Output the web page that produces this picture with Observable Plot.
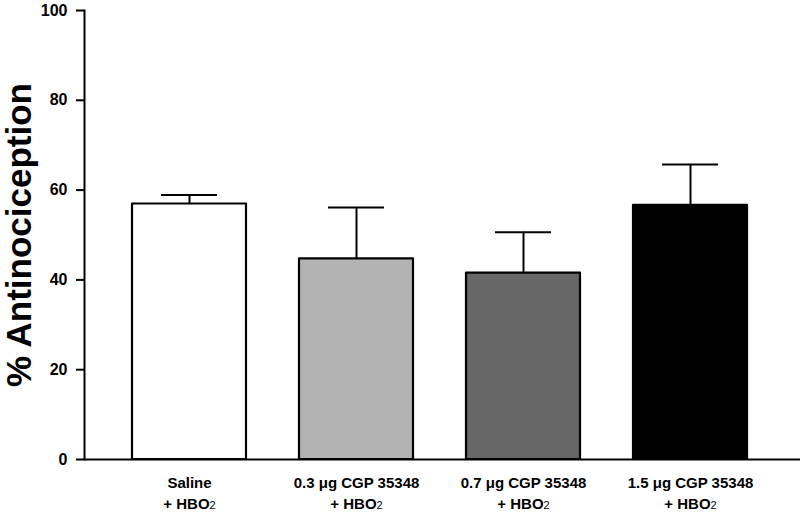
<!DOCTYPE html>
<html>
<head>
<meta charset="utf-8">
<script src="https://cdn.jsdelivr.net/npm/d3@7"></script>
<script src="https://cdn.jsdelivr.net/npm/@observablehq/plot@0.6"></script>
<style>
  html, body { margin: 0; padding: 0; background: #fff; }
  #chart { width: 800px; height: 515px; }
</style>
</head>
<body>
<div id="chart"></div>
<script>
const categories = ["Saline\n+ HBO2", "0.3 μg CGP 35348\n+ HBO2", "0.7 μg CGP 35348\n+ HBO2", "1.5 μg CGP 35348\n+ HBO2"];
const means = [56.9, 44.7, 41.5, 56.6];
const sems = [2.0, 11.4, 9.1, 9.1];
const fills = ["#ffffff", "#b3b3b3", "#676767", "#000000"];
const yTicks = [0, 20, 40, 60, 80, 100];
const yLabel = "% Antinociception";

const data = categories.map((c, i) => ({cat: c, mean: means[i], upper: means[i] + sems[i], fill: fills[i]}));

const font = "'Liberation Sans', Arial, sans-serif";

const chart = Plot.plot({
  width: 800,
  height: 515,
  marginLeft: 84,
  marginRight: 0,
  marginTop: 10,
  marginBottom: 56,
  style: {fontFamily: font, fontWeight: "bold", color: "#000", background: "#fff", overflow: "visible"},
  x: {domain: categories, range: [84, 796], paddingInner: 0.317, paddingOuter: 0.287, label: null},
  y: {domain: [0, 100], ticks: yTicks, label: null},
  marks: [
    Plot.ruleX(data, {x: "cat", y1: "mean", y2: "upper", stroke: "#000", strokeWidth: 2}),
    Plot.tickY(data, {x: "cat", y: "upper", stroke: "#000", strokeWidth: 2, insetLeft: 29, insetRight: 29}),
    Plot.barY(data, {x: "cat", y: "mean", fill: "fill", stroke: "#000", strokeWidth: 2.2, strokeLinejoin: "round"}),
    Plot.frame({anchor: "left", stroke: "#000", strokeWidth: 2}),
    Plot.ruleY([0], {stroke: "#000", strokeWidth: 2.2}),
    Plot.axisY({ticks: yTicks, tickSize: 8, tickPadding: 9, fontSize: 16, fontWeight: "bold", label: null, strokeWidth: 2}),
    Plot.axisX({tickSize: 0, tickPadding: 14, fontSize: 15, fontWeight: "bold", lineHeight: 1.4, label: null}),
    Plot.text([yLabel], {frameAnchor: "left", textAnchor: "middle", rotate: -90, dx: -65, fontSize: 35, fontWeight: "bold"})
  ]
});

chart.querySelectorAll("tspan").forEach(t => {
  if (t.textContent === "+ HBO2") {
    t.textContent = "+ HBO";
    const sub = document.createElementNS("http://www.w3.org/2000/svg", "tspan");
    sub.setAttribute("font-size", "11");
    sub.setAttribute("font-weight", "normal");
    sub.textContent = "2";
    t.appendChild(sub);
  }
});

document.getElementById("chart").appendChild(chart);
</script>
</body>
</html>
